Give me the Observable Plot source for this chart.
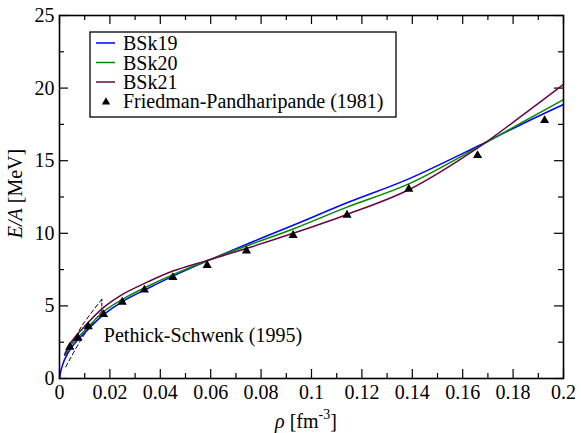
<!DOCTYPE html>
<html>
<head>
<meta charset="utf-8">
<script src="https://cdn.jsdelivr.net/npm/d3@7"></script>
<script src="https://cdn.jsdelivr.net/npm/@observablehq/plot@0.6"></script>
<style>
  html, body { margin: 0; padding: 0; background: #fff; }
  #chart svg { display: block; }
</style>
</head>
<body>
<div id="chart"></div>
<script>
// ---- data ----
const seriesNames = ["BSk19", "BSk20", "BSk21"];
const seriesColors = ["#0000ff", "#008b00", "#670748"];

const bsk19X = [0, 0.0005, 0.001, 0.002, 0.005, 0.01, 0.0175, 0.025, 0.035, 0.045, 0.058, 0.075, 0.0927, 0.1141, 0.1386, 0.1657, 0.185, 0.2];
const bsk19Y = [0, 0.5, 0.8, 1.3, 2.2, 3.15, 4.4, 5.3, 6.2, 7.05, 8.05, 9.3, 10.55, 12.1, 13.75, 15.98, 17.65, 18.87];

const bskX = [0.002, 0.005, 0.01, 0.0175, 0.025, 0.035, 0.045, 0.058, 0.075, 0.0927, 0.1141, 0.1386, 0.1657, 0.185, 0.2];
const bsk20Y = [1.6, 2.4, 3.3, 4.6, 5.45, 6.35, 7.15, 8.08, 9.18, 10.3, 11.8, 13.4, 15.9, 17.78, 19.2];
const bsk21Y = [1.65, 2.6, 3.6, 4.9, 5.8, 6.65, 7.4, 8.1, 9.0, 10.0, 11.3, 13.0, 15.85, 18.3, 20.25];

const fpName = "Friedman-Pandharipande (1981)";
const fpX = [0.0041, 0.0073, 0.0114, 0.0175, 0.0249, 0.0337, 0.045, 0.0586, 0.0742, 0.0927, 0.1141, 0.1386, 0.1659, 0.1925];
const fpY = [2.16, 2.78, 3.58, 4.41, 5.26, 6.1, 6.96, 7.8, 8.79, 9.86, 11.25, 13.05, 15.36, 17.77];

const psName = "Pethick-Schwenk (1995)";
const psUpperX = [0.0025, 0.009, 0.0168];
const psUpperY = [1.6, 3.65, 5.45];
const psLowerX = [0.0025, 0.009, 0.0168];
const psLowerY = [0.8, 2.8, 4.65];
const psLabelX = 0.0176, psLabelY = 2.96;

const xMajor = [0, 0.02, 0.04, 0.06, 0.08, 0.1, 0.12, 0.14, 0.16, 0.18, 0.2];
const xTickLabels = ["0", "0.02", "0.04", "0.06", "0.08", "0.1", "0.12", "0.14", "0.16", "0.18", "0.2"];
const xMinor = [0.01, 0.03, 0.05, 0.07, 0.09, 0.11, 0.13, 0.15, 0.17, 0.19];
const yMajor = [0, 5, 10, 15, 20, 25];
const yTickLabels = ["0", "5", "10", "15", "20", "25"];
const yMinor = [2.5, 7.5, 12.5, 17.5, 22.5];

// ---- build ----
const W = 581, H = 433, mL = 59, mR = 18, mT = 15, mB = 55;
const innerW = W - mL - mR, innerH = H - mT - mB;
const FONT = "Times, serif";

const toPts = (xs, ys) => xs.map((x, i) => ({x, y: ys[i]}));
const b19 = toPts(bsk19X, bsk19Y);
const b20 = toPts(bskX, bsk20Y);
const b21 = toPts(bskX, bsk21Y);
const fp = toPts(fpX, fpY);
const psU = toPts(psUpperX, psUpperY);
const psL = toPts(psLowerX, psLowerY);
const psEnd = [{x: psUpperX[2], y: psLowerY[2]}, {x: psUpperX[2], y: psUpperY[2]}];

const tickStroke = {stroke: "black", strokeWidth: 1.2};
const plot = Plot.plot({
  width: W, height: H,
  marginLeft: mL, marginRight: mR, marginTop: mT, marginBottom: mB,
  style: {fontSize: "20px", color: "black", background: "white", fontFamily: FONT},
  x: {domain: [0, 0.2]},
  y: {domain: [0, 25]},
  marks: [
    // inward ticks
    Plot.ruleX(xMajor, {x: d => d, insetTop: innerH - 9, ...tickStroke}),
    Plot.ruleX(xMajor, {x: d => d, insetBottom: innerH - 9, ...tickStroke}),
    Plot.ruleX(xMinor, {x: d => d, insetTop: innerH - 5, ...tickStroke}),
    Plot.ruleX(xMinor, {x: d => d, insetBottom: innerH - 5, ...tickStroke}),
    Plot.ruleY(yMajor, {y: d => d, insetRight: innerW - 9, ...tickStroke}),
    Plot.ruleY(yMajor, {y: d => d, insetLeft: innerW - 9, ...tickStroke}),
    Plot.ruleY(yMinor, {y: d => d, insetRight: innerW - 5, ...tickStroke}),
    Plot.ruleY(yMinor, {y: d => d, insetLeft: innerW - 5, ...tickStroke}),
    Plot.axisX({ticks: xMajor, tickSize: 0, tickPadding: 6, tickFormat: d => xTickLabels[xMajor.indexOf(d)], label: null, fontSize: 20}),
    Plot.axisY({ticks: yMajor, tickSize: 0, tickPadding: 5, tickFormat: d => yTickLabels[yMajor.indexOf(d)], label: null, fontSize: 20}),
    // Pethick-Schwenk band
    Plot.line(psU, {x: "x", y: "y", stroke: "black", strokeWidth: 1, strokeDasharray: "4,3", curve: "catmull-rom"}),
    Plot.line(psL, {x: "x", y: "y", stroke: "black", strokeWidth: 1, strokeDasharray: "4,3", curve: "catmull-rom"}),
    Plot.line(psEnd, {x: "x", y: "y", stroke: "black", strokeWidth: 1, strokeDasharray: "3,2"}),
    Plot.text([psName], {x: () => psLabelX, y: () => psLabelY, text: d => d, textAnchor: "start", fontSize: 20, fill: "black"}),
    // curves
    Plot.line(b19, {x: "x", y: "y", stroke: seriesColors[0], strokeWidth: 1.5, curve: "catmull-rom"}),
    Plot.line(b20, {x: "x", y: "y", stroke: seriesColors[1], strokeWidth: 1.5, curve: "catmull-rom"}),
    Plot.line(b21, {x: "x", y: "y", stroke: seriesColors[2], strokeWidth: 1.5, curve: "catmull-rom"}),
    // FP points
    Plot.dot(fp, {x: "x", y: "y", symbol: "triangle", r: 3.4, fill: "black", stroke: "none"}),
    Plot.frame({stroke: "black", strokeWidth: 1.6})
  ]
});

const svg = d3.select(plot);
// y label
const yl = svg.append("text")
  .attr("transform", `translate(22,${mT + innerH / 2 - 3}) rotate(-90)`)
  .attr("text-anchor", "middle").attr("font-size", 20).attr("fill", "black");
yl.append("tspan").attr("font-style", "italic").text("E/A");
yl.append("tspan").text(" [MeV]");
// x label
const xl = svg.append("text")
  .attr("x", 306).attr("y", 428)
  .attr("text-anchor", "middle").attr("font-size", 20).attr("fill", "black");
xl.append("tspan").attr("font-style", "italic").text("ρ");
xl.append("tspan").text(" [fm");
xl.append("tspan").attr("font-size", 14).attr("dy", -9).text("-3");
xl.append("tspan").attr("dy", 9).text("]");

// legend
const lg = svg.append("g").attr("font-size", 20).attr("text-anchor", "start");
lg.append("rect").attr("x", 90).attr("y", 32).attr("width", 306).attr("height", 85)
  .attr("fill", "white").attr("stroke", "black").attr("stroke-width", 1.3);
const rowY = [43, 62.5, 82, 101];
seriesNames.forEach((n, i) => {
  lg.append("line").attr("x1", 96).attr("x2", 115).attr("y1", rowY[i]).attr("y2", rowY[i])
    .attr("stroke", seriesColors[i]).attr("stroke-width", 1.5);
  lg.append("text").attr("x", 123).attr("y", rowY[i]).attr("dy", "0.35em")
    .attr("text-anchor", "start").attr("fill", "black").text(n);
});
lg.append("path").attr("transform", `translate(106,${rowY[3] + 1})`)
  .attr("d", d3.symbol(d3.symbolTriangle, 30)()).attr("fill", "black");
lg.append("text").attr("x", 123).attr("y", rowY[3]).attr("dy", "0.35em")
  .attr("text-anchor", "start").attr("fill", "black").text(fpName);

// force serif font on every text element
svg.style("font-family", FONT);
svg.selectAll("g").style("font-family", FONT);
svg.selectAll("text").attr("font-family", FONT).style("font-family", FONT);

document.getElementById("chart").appendChild(plot);
</script>
</body>
</html>
